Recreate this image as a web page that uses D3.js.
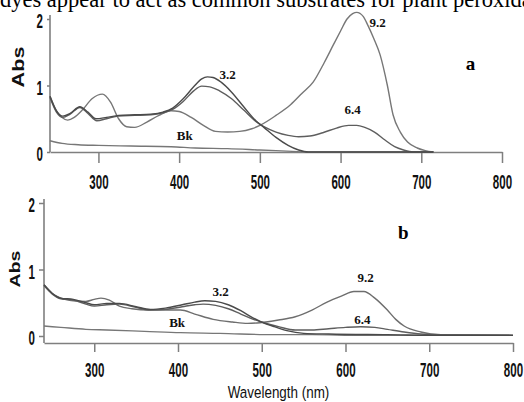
<!DOCTYPE html>
<html>
<head>
<meta charset="utf-8">
<script src="https://cdn.jsdelivr.net/npm/d3@7"></script>
<style>
  body { margin: 0; background: #fff; }
  svg { display: block; }
</style>
</head>
<body>
<svg id="chart"></svg>
<script>
// values: [wavelength (nm), absorbance]
const xTicks = [300, 400, 500, 600, 700, 800];
const yTicks = [0, 1, 2];

// panel a
const aPH32 = [[240,.84],[248,.62],[256,.54],[265,.58],[277,.68],[287,.60],[297,.50],[310,.52],[325,.55],[345,.56],
  [365,.57],[380,.60],[392,.66],[405,.80],[418,.98],[428,1.10],[435,1.13],[442,1.12],[452,1.05],[465,.90],[480,.68],
  [495,.47],[505,.37],[520,.22],[535,.10],[548,.03],[560,0],[715,0]];
const aPH64 = [[240,.82],[248,.60],[256,.52],[265,.57],[277,.67],[287,.58],[298,.47],[310,.50],[325,.54],[345,.55],
  [365,.56],[380,.59],[392,.64],[405,.76],[418,.92],[428,.99],[438,.98],[450,.92],[465,.80],[480,.63],[495,.46],
  [505,.38],[520,.30],[535,.25],[548,.23],[562,.24],[578,.29],[595,.36],[610,.40],[620,.40],[630,.37],[642,.30],
  [655,.18],[667,.08],[678,.03],[690,0],[715,0]];
const aPH92 = [[240,.84],[248,.62],[255,.52],[262,.48],[270,.52],[280,.63],[292,.80],[305,.87],[315,.75],[325,.50],
  [335,.38],[345,.37],[360,.45],[375,.55],[390,.62],[400,.61],[415,.52],[430,.40],[445,.31],[460,.30],[475,.31],
  [490,.35],[500,.40],[520,.55],[538,.71],[552,.88],[566,1.05],[580,1.35],[591,1.61],[600,1.82],[608,2.00],
  [615,2.08],[620,2.10],[628,2.04],[634,1.90],[641,1.71],[649,1.46],[658,1.00],[665,.56],[674,.30],[683,.15],
  [695,.06],[705,.02],[715,0]];
const aBk = [[240,.17],[255,.13],[275,.11],[300,.10],[340,.09],[390,.08],[420,.06],[460,.05],[500,.03],[540,.01],
  [560,0],[715,0]];
const aLabels = [[646,1.88,"9.2"],[460,1.105,"3.2"],[615,.564,"6.4"],[407,.173,"Bk"]];

// panel b
const bPH32 = [[240,.77],[250,.64],[260,.57],[275,.55],[290,.50],[300,.47],[315,.49],[330,.49],[350,.44],[367,.40],
  [385,.42],[405,.47],[420,.51],[432,.53],[445,.52],[460,.47],[475,.38],[490,.27],[500,.21],[515,.14],[530,.08],
  [550,.04],[580,.03],[650,.02],[720,.01],[800,.01]];
const bPH64 = [[240,.76],[250,.63],[260,.56],[275,.54],[290,.48],[300,.45],[315,.47],[330,.48],[350,.43],[367,.39],
  [385,.40],[405,.44],[420,.47],[430,.48],[445,.46],[460,.41],[475,.33],[490,.25],[500,.21],[520,.14],[540,.09],
  [560,.09],[580,.11],[600,.13],[618,.14],[635,.13],[650,.10],[670,.06],[690,.03],[710,.02],[800,.01]];
const bPH92 = [[240,.77],[250,.64],[260,.57],[275,.53],[290,.52],[300,.55],[308,.57],[318,.54],[330,.45],[345,.41],
  [365,.39],[385,.39],[403,.39],[420,.33],[442,.25],[465,.21],[483,.19],[498,.20],[520,.24],[540,.29],[560,.39],
  [578,.51],[595,.60],[610,.67],[622,.67],[635,.57],[650,.39],[660,.25],[670,.15],[690,.06],[714,.02],[800,.01]];
const bBk = [[240,.15],[260,.13],[290,.10],[315,.09],[360,.07],[403,.05],[450,.04],[514,.02],[560,.02],[620,.01],
  [700,.01],[800,.01]];
const bLabels = [[624,.805,"9.2"],[451,.594,"3.2"],[620,.173,"6.4"],[399,.128,"Bk"]];

const width = 524, height = 402;
const svg = d3.select("#chart").attr("width", width).attr("height", height);

// line of running text cut off by the top of the crop
svg.append("text")
  .attr("x", 0)
  .attr("y", 7)
  .style("font-family", "'Liberation Serif', 'Times New Roman', serif")
  .style("font-size", "22.5px")
  .attr("fill", "#000")
  .text("dyes appear to act as common substrates for plant peroxidases");

function drawPanel(p) {
  const x = d3.scaleLinear().domain([240, 800]).range([p.left, p.right]);
  const y = d3.scaleLinear().domain([0, 2]).range([p.zero, p.two]);
  const axisY = p.zero + p.xAxisDrop;

  const g = svg.append("g");

  // y axis
  const yAxis = d3.axisLeft(y).tickValues(yTicks).tickSize(p.yTick).tickSizeOuter(0).tickPadding(4)
    .tickFormat(d3.format("d"));
  const yAxisG = g.append("g").attr("transform", `translate(${p.left},0)`).call(yAxis);
  yAxisG.select(".domain").remove();
  yAxisG.selectAll("line").attr("stroke", "#7f7f7f").attr("stroke-width", 1.5);
  yAxisG.selectAll("text")
    .attr("x", -(p.yTick + 4) / 0.55)
    .attr("dy", "0.42em")
    .attr("transform", "scale(0.55,1)")
    .style("font-family", "'Liberation Sans', Arial, sans-serif")
    .style("font-weight", "bold")
    .style("font-size", "21px")
    .attr("fill", "#111");
  g.append("line")
    .attr("x1", p.left).attr("x2", p.left)
    .attr("y1", y(2) - 4).attr("y2", axisY)
    .attr("stroke", "#7f7f7f").attr("stroke-width", 1.6);

  // x axis
  const xAxis = d3.axisBottom(x).tickValues(xTicks).tickSize(p.xTick).tickSizeOuter(0).tickPadding(p.xPad)
    .tickFormat(d3.format("d"));
  const xAxisG = g.append("g").attr("transform", `translate(0,${axisY})`).call(xAxis);
  xAxisG.select(".domain").attr("stroke", "#7f7f7f").attr("stroke-width", 1.6);
  xAxisG.selectAll("line").attr("stroke", "#7f7f7f").attr("stroke-width", 1.5);
  xAxisG.selectAll("text")
    .attr("transform", "scale(0.55,1)")
    .style("font-family", "'Liberation Sans', Arial, sans-serif")
    .style("font-weight", "bold")
    .style("font-size", "21px")
    .attr("fill", "#111");

  // Abs title
  g.append("text")
    .attr("transform", `translate(${p.absX},${p.absY}) rotate(-90) scale(${p.absStretch},1)`)
    .attr("text-anchor", "middle")
    .attr("dy", "0.36em")
    .style("font-family", "'Liberation Sans', Arial, sans-serif")
    .style("font-weight", "bold")
    .style("font-size", p.absSize + "px")
    .attr("fill", "#111")
    .text("Abs");

  // spectra
  const line = d3.line()
    .x(d => x(d[0]))
    .y(d => y(d[1]))
    .curve(d3.curveMonotoneX);

  p.series.forEach(s => {
    g.append("path")
      .datum(s.data)
      .attr("fill", "none")
      .attr("stroke", s.color)
      .attr("stroke-width", 1.4)
      .attr("d", line);
  });

  // curve labels
  g.selectAll(".curve-label")
    .data(p.labels)
    .enter()
    .append("text")
    .attr("class", "curve-label")
    .attr("x", d => x(d[0]))
    .attr("y", d => y(d[1]))
    .attr("text-anchor", "middle")
    .style("font-family", "'Liberation Serif', 'Times New Roman', serif")
    .style("font-weight", "bold")
    .style("font-size", "13px")
    .attr("fill", "#111")
    .text(d => d[2]);

  // panel letter
  g.append("text")
    .attr("x", x(p.letter[0]))
    .attr("y", y(p.letter[1]))
    .attr("text-anchor", "middle")
    .style("font-family", "'Liberation Serif', 'Times New Roman', serif")
    .style("font-weight", "bold")
    .style("font-size", "19px")
    .attr("fill", "#000")
    .text(p.letter[2]);

  return { x, y, axisY };
}

drawPanel({
  left: 50, right: 502, zero: 152, two: 19, xAxisDrop: 0,
  yTick: 3, xTick: 11, xPad: 11,
  absX: 18, absY: 67, absSize: 16, absStretch: 1.35,
  series: [
    { data: aBk, color: "#777" },
    { data: aPH92, color: "#777" },
    { data: aPH64, color: "#5e5e5e" },
    { data: aPH32, color: "#4a4a4a" }
  ],
  labels: aLabels,
  letter: [761, 1.233, "a"]
});

const pb = drawPanel({
  left: 44, right: 513, zero: 336, two: 203, xAxisDrop: 7,
  yTick: 5, xTick: 9, xPad: 10,
  absX: 15, absY: 269, absSize: 15, absStretch: 1.3,
  series: [
    { data: bBk, color: "#777" },
    { data: bPH92, color: "#6e6e6e" },
    { data: bPH64, color: "#5e5e5e" },
    { data: bPH32, color: "#4a4a4a" }
  ],
  labels: bLabels,
  letter: [669, 1.466, "b"]
});

// x axis title under panel b
svg.append("text")
  .attr("transform", `translate(${pb.x(520)},398) scale(0.79,1)`)
  .attr("text-anchor", "middle")
  .style("font-family", "'Liberation Sans', Arial, sans-serif")
  .style("font-size", "17px")
  .attr("fill", "#111")
  .text("Wavelength (nm)");
</script>
</body>
</html>
